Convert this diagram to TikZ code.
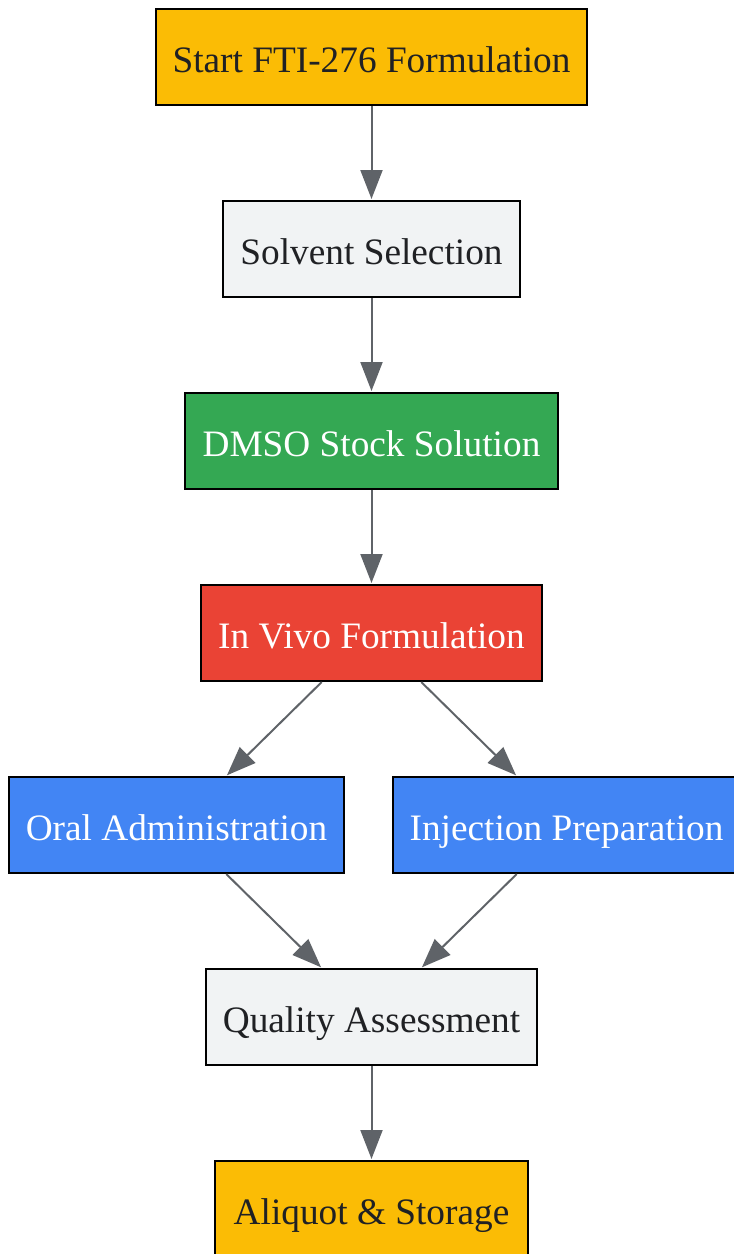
\documentclass[tikz,border=0pt]{standalone}
\usepackage{fontspec}
\setmainfont{Liberation Serif}
\usetikzlibrary{arrows.meta}
\definecolor{cyellow}{HTML}{FBBC05}
\definecolor{cgray}{HTML}{F1F3F4}
\definecolor{cgreen}{HTML}{34A853}
\definecolor{cred}{HTML}{EA4335}
\definecolor{cblue}{HTML}{4285F4}
\definecolor{cedge}{HTML}{5F6368}
\definecolor{ctext}{HTML}{202124}
\tikzset{
  box/.style={draw=black, line width=2pt, rectangle, inner sep=0pt, minimum height=96pt,
    text height=30pt, text depth=0pt,
    font=\fontsize{37.3}{40}\selectfont, text=ctext},
  wbox/.style={box, text=white},
  flow/.style={draw=cedge, line width=2pt, -{Triangle[length=29pt,width=22pt]}, shorten >=1pt}
}
\begin{document}
\begin{tikzpicture}[x=1pt,y=-1pt]
\useasboundingbox (0,0) rectangle (734,1254);
\node[box, fill=cyellow, minimum width=431pt] (start) at (371.5,57) {Start FTI-276 Formulation};
\node[box, fill=cgray, minimum width=297pt] (solv) at (371.5,249) {Solvent Selection};
\node[wbox, fill=cgreen, minimum width=373pt] (dmso) at (371.5,441) {DMSO Stock Solution};
\node[wbox, fill=cred, minimum width=341pt] (invivo) at (371.5,633) {In Vivo Formulation};
\node[wbox, fill=cblue, minimum width=335pt] (oral) at (176.5,825) {Oral Administration};
\node[wbox, fill=cblue, minimum width=347pt] (inj) at (566.5,825) {Injection Preparation};
\node[box, fill=cgray, minimum width=331pt] (qa) at (371.5,1017) {Quality Assessment};
\node[box, fill=cyellow, minimum width=313pt] (aliq) at (371.5,1209) {Aliquot \& Storage};
\draw[flow] (start) -- (solv);
\draw[flow] (solv) -- (dmso);
\draw[flow] (dmso) -- (invivo);
\draw[flow] (invivo) -- (oral);
\draw[flow] (invivo) -- (inj);
\draw[flow] (oral) -- (qa);
\draw[flow] (inj) -- (qa);
\draw[flow] (qa) -- (aliq);
\end{tikzpicture}
\end{document}
